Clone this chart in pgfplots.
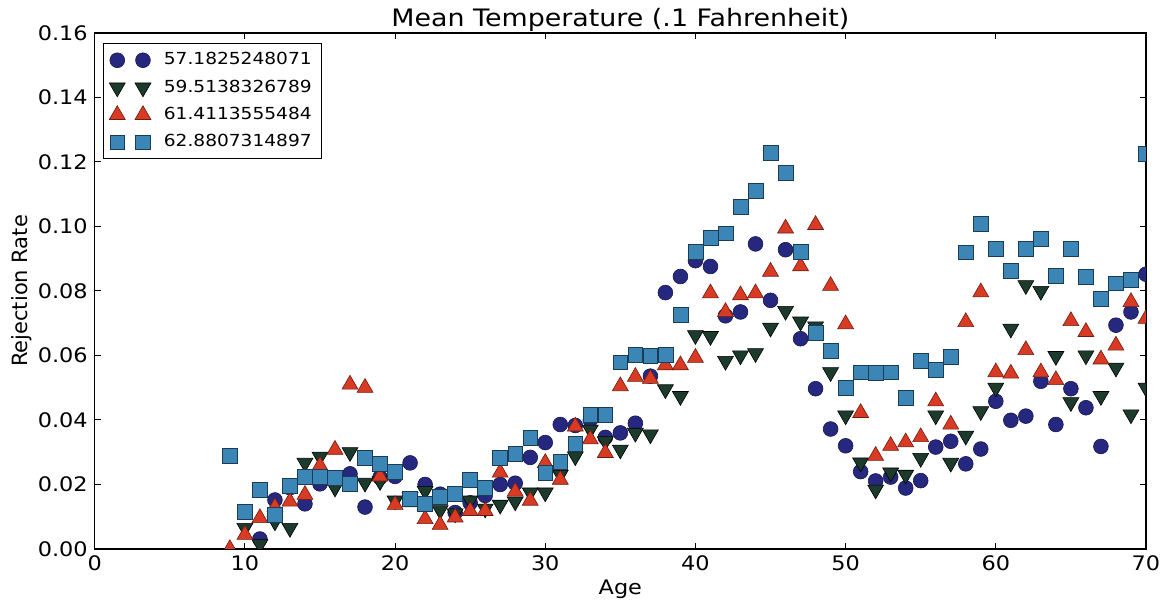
\documentclass[border=0pt]{standalone}
\usepackage{fontspec}
\setmainfont{DejaVu Sans}[FakeStretch=1.12]
\newfontfamily\uprightlabel{DejaVu Sans}
\usepackage{pgfplots}
\usepackage{pgfplotstable}
\pgfplotsset{compat=1.18}

\definecolor{cnavy}{HTML}{25287E}
\definecolor{cgreen}{HTML}{1C3B2C}
\definecolor{cred}{HTML}{D93A24}
\definecolor{cblue}{HTML}{3B86B6}

% rejection rate by age, one table per mean-temperature group
\pgfplotstableread{
age rate
11 0.0031
12 0.0152
13 0.0190
14 0.0140
15 0.0202
16 0.0215
17 0.0233
18 0.0130
19 0.0222
20 0.0225
21 0.0267
22 0.0200
23 0.0170
24 0.0113
25 0.0143
26 0.0166
27 0.0200
28 0.0204
29 0.0284
30 0.0330
31 0.0386
32 0.0383
33 0.0400
34 0.0346
35 0.0360
36 0.0390
37 0.0536
38 0.0795
39 0.0845
40 0.0894
41 0.0876
42 0.0723
43 0.0735
44 0.0946
45 0.0771
46 0.0928
47 0.0652
48 0.0497
49 0.0372
50 0.0320
51 0.0240
52 0.0211
53 0.0223
54 0.0189
55 0.0212
56 0.0316
57 0.0334
58 0.0264
59 0.0310
60 0.0458
61 0.0399
62 0.0412
63 0.0520
64 0.0386
65 0.0497
66 0.0438
67 0.0318
68 0.0694
69 0.0735
70 0.0852
}\tA

\pgfplotstableread{
age rate
10 0.0065
11 0.0015
12 0.0085
13 0.0065
14 0.0267
15 0.0286
16 0.0190
17 0.0300
18 0.0205
19 0.0210
20 0.0150
21 0.0160
22 0.0180
23 0.0120
24 0.0110
25 0.0150
26 0.0125
27 0.0137
28 0.0147
29 0.0175
30 0.0175
31 0.0230
32 0.0287
33 0.0370
34 0.0334
35 0.0308
36 0.0360
37 0.0355
38 0.0495
39 0.0474
40 0.0663
41 0.0660
42 0.0583
43 0.0600
44 0.0607
45 0.0686
46 0.0738
47 0.0705
48 0.0690
49 0.0548
50 0.0414
51 0.0268
52 0.0184
53 0.0237
54 0.0230
55 0.0282
56 0.0414
57 0.0267
58 0.0351
59 0.0427
60 0.0500
61 0.0683
62 0.0818
63 0.0800
64 0.0598
65 0.0455
66 0.0600
67 0.0474
68 0.0562
69 0.0417
70 0.0500
}\tB

\pgfplotstableread{
age rate
9 0.0000
10 0.0044
11 0.0096
12 0.0130
13 0.0147
14 0.0168
15 0.0258
16 0.0308
17 0.0510
18 0.0500
19 0.0225
20 0.0137
21 0.0145
22 0.0093
23 0.0075
24 0.0098
25 0.0118
26 0.0118
27 0.0237
28 0.0178
29 0.0150
30 0.0267
31 0.0215
32 0.0380
33 0.0340
34 0.0298
35 0.0505
36 0.0534
37 0.0528
38 0.0570
39 0.0570
40 0.0593
41 0.0793
42 0.0735
43 0.0787
44 0.0793
45 0.0860
46 0.0994
47 0.0877
48 0.1005
49 0.0816
50 0.0697
51 0.0422
52 0.0289
53 0.0320
54 0.0331
55 0.0347
56 0.0458
57 0.0386
58 0.0704
59 0.0796
60 0.0548
61 0.0544
62 0.0617
63 0.0548
64 0.0524
65 0.0707
66 0.0673
67 0.0588
68 0.0631
69 0.0766
70 0.0714
}\tC

\pgfplotstableread{
age rate
9 0.0290
10 0.0116
11 0.0183
12 0.0106
13 0.0196
14 0.0223
15 0.0223
16 0.0220
17 0.0202
18 0.0283
19 0.0264
20 0.0240
21 0.0155
22 0.0140
23 0.0163
24 0.0170
25 0.0215
26 0.0190
27 0.0284
28 0.0295
29 0.0344
30 0.0237
31 0.0270
32 0.0325
33 0.0415
34 0.0416
35 0.0579
36 0.0603
37 0.0600
38 0.0603
39 0.0725
40 0.0922
41 0.0966
42 0.0979
43 0.1060
44 0.1111
45 0.1229
46 0.1166
47 0.0922
48 0.0671
49 0.0614
50 0.0500
51 0.0548
52 0.0546
53 0.0548
54 0.0469
55 0.0583
56 0.0555
57 0.0596
58 0.0920
59 0.1008
60 0.0932
61 0.0863
62 0.0930
63 0.0963
64 0.0847
65 0.0930
66 0.0845
67 0.0777
68 0.0824
69 0.0835
70 0.1225
}\tD

\begin{document}
\begin{tikzpicture}
\begin{axis}[
  at={(0,0)}, anchor=south west,
  scale only axis,
  width=525.65pt, height=258pt,
  xmin=0, xmax=70, ymin=0, ymax=0.16,
  clip marker paths=true,
  xtick={0,10,20,30,40,50,60,70},
  ytick={0,0.02,0.04,0.06,0.08,0.10,0.12,0.14,0.16},
  scaled y ticks=false,
  /pgf/number format/assume math mode=true,
  yticklabel style={/pgf/number format/.cd, fixed, fixed zerofill, precision=2},
  tick label style={font=\fontsize{10}{12}\selectfont},
  tick align=inside,
  major tick length=3pt,
  axis line style={line width=0.6pt},
  every tick/.style={line width=0.5pt, black},
  title={Mean Temperature (.1 Fahrenheit)},
  every axis title/.style={at={(0.5,1)}, anchor=base, yshift=3pt,
    font=\fontsize{12}{14}\selectfont},
  xlabel={Age},
  xlabel style={font=\fontsize{10}{12}\selectfont, at={(axis description cs:0.5,0)}, anchor=center, yshift=-20pt},
  ylabel={Rejection Rate},
  ylabel style={font=\uprightlabel\fontsize{10.5}{12}\selectfont, at={(axis description cs:-0.0694,0.5)}, anchor=center, rotate=0},
  legend style={at={(0,1)}, anchor=north west, xshift=4pt, yshift=-5pt,
    draw=black, line width=0.6pt, font=\fontsize{8.3}{10}\selectfont,
    inner xsep=3pt, inner ysep=2.5pt, row sep=2pt,
    cells={anchor=west}},
  % two marks per entry, with extra room before the text
  legend image code/.code={
    \draw[#1] plot coordinates {(0pt,0pt) (12.85pt,0pt)};
    \path (21pt,0pt);
  },
  legend cell align=left,
]
\addplot[only marks, mark=*, mark size=3.7pt,
  mark options={fill=cnavy, draw=cnavy!60!black, line width=0.3pt}]
  table[x=age, y=rate] {\tA};
\addlegendentry{57.1825248071}
\addplot[only marks, mark=triangle*, mark size=4.6pt,
  mark options={rotate=180, fill=cgreen, draw=black, line width=0.3pt}]
  table[x=age, y=rate] {\tB};
\addlegendentry{59.5138326789}
\addplot[only marks, mark=triangle*, mark size=4.6pt,
  mark options={fill=cred, draw=cred!50!black, line width=0.3pt}]
  table[x=age, y=rate] {\tC};
\addlegendentry{61.4113555484}
\addplot[only marks, mark=square*, mark size=3.7pt,
  mark options={fill=cblue, draw=cblue!45!black, line width=0.3pt}]
  table[x=age, y=rate] {\tD};
\addlegendentry{62.8807314897}
\end{axis}
\pgfresetboundingbox
\useasboundingbox (-47.35pt,-27pt) rectangle (534.15pt,274.5pt);
\end{tikzpicture}
\end{document}
